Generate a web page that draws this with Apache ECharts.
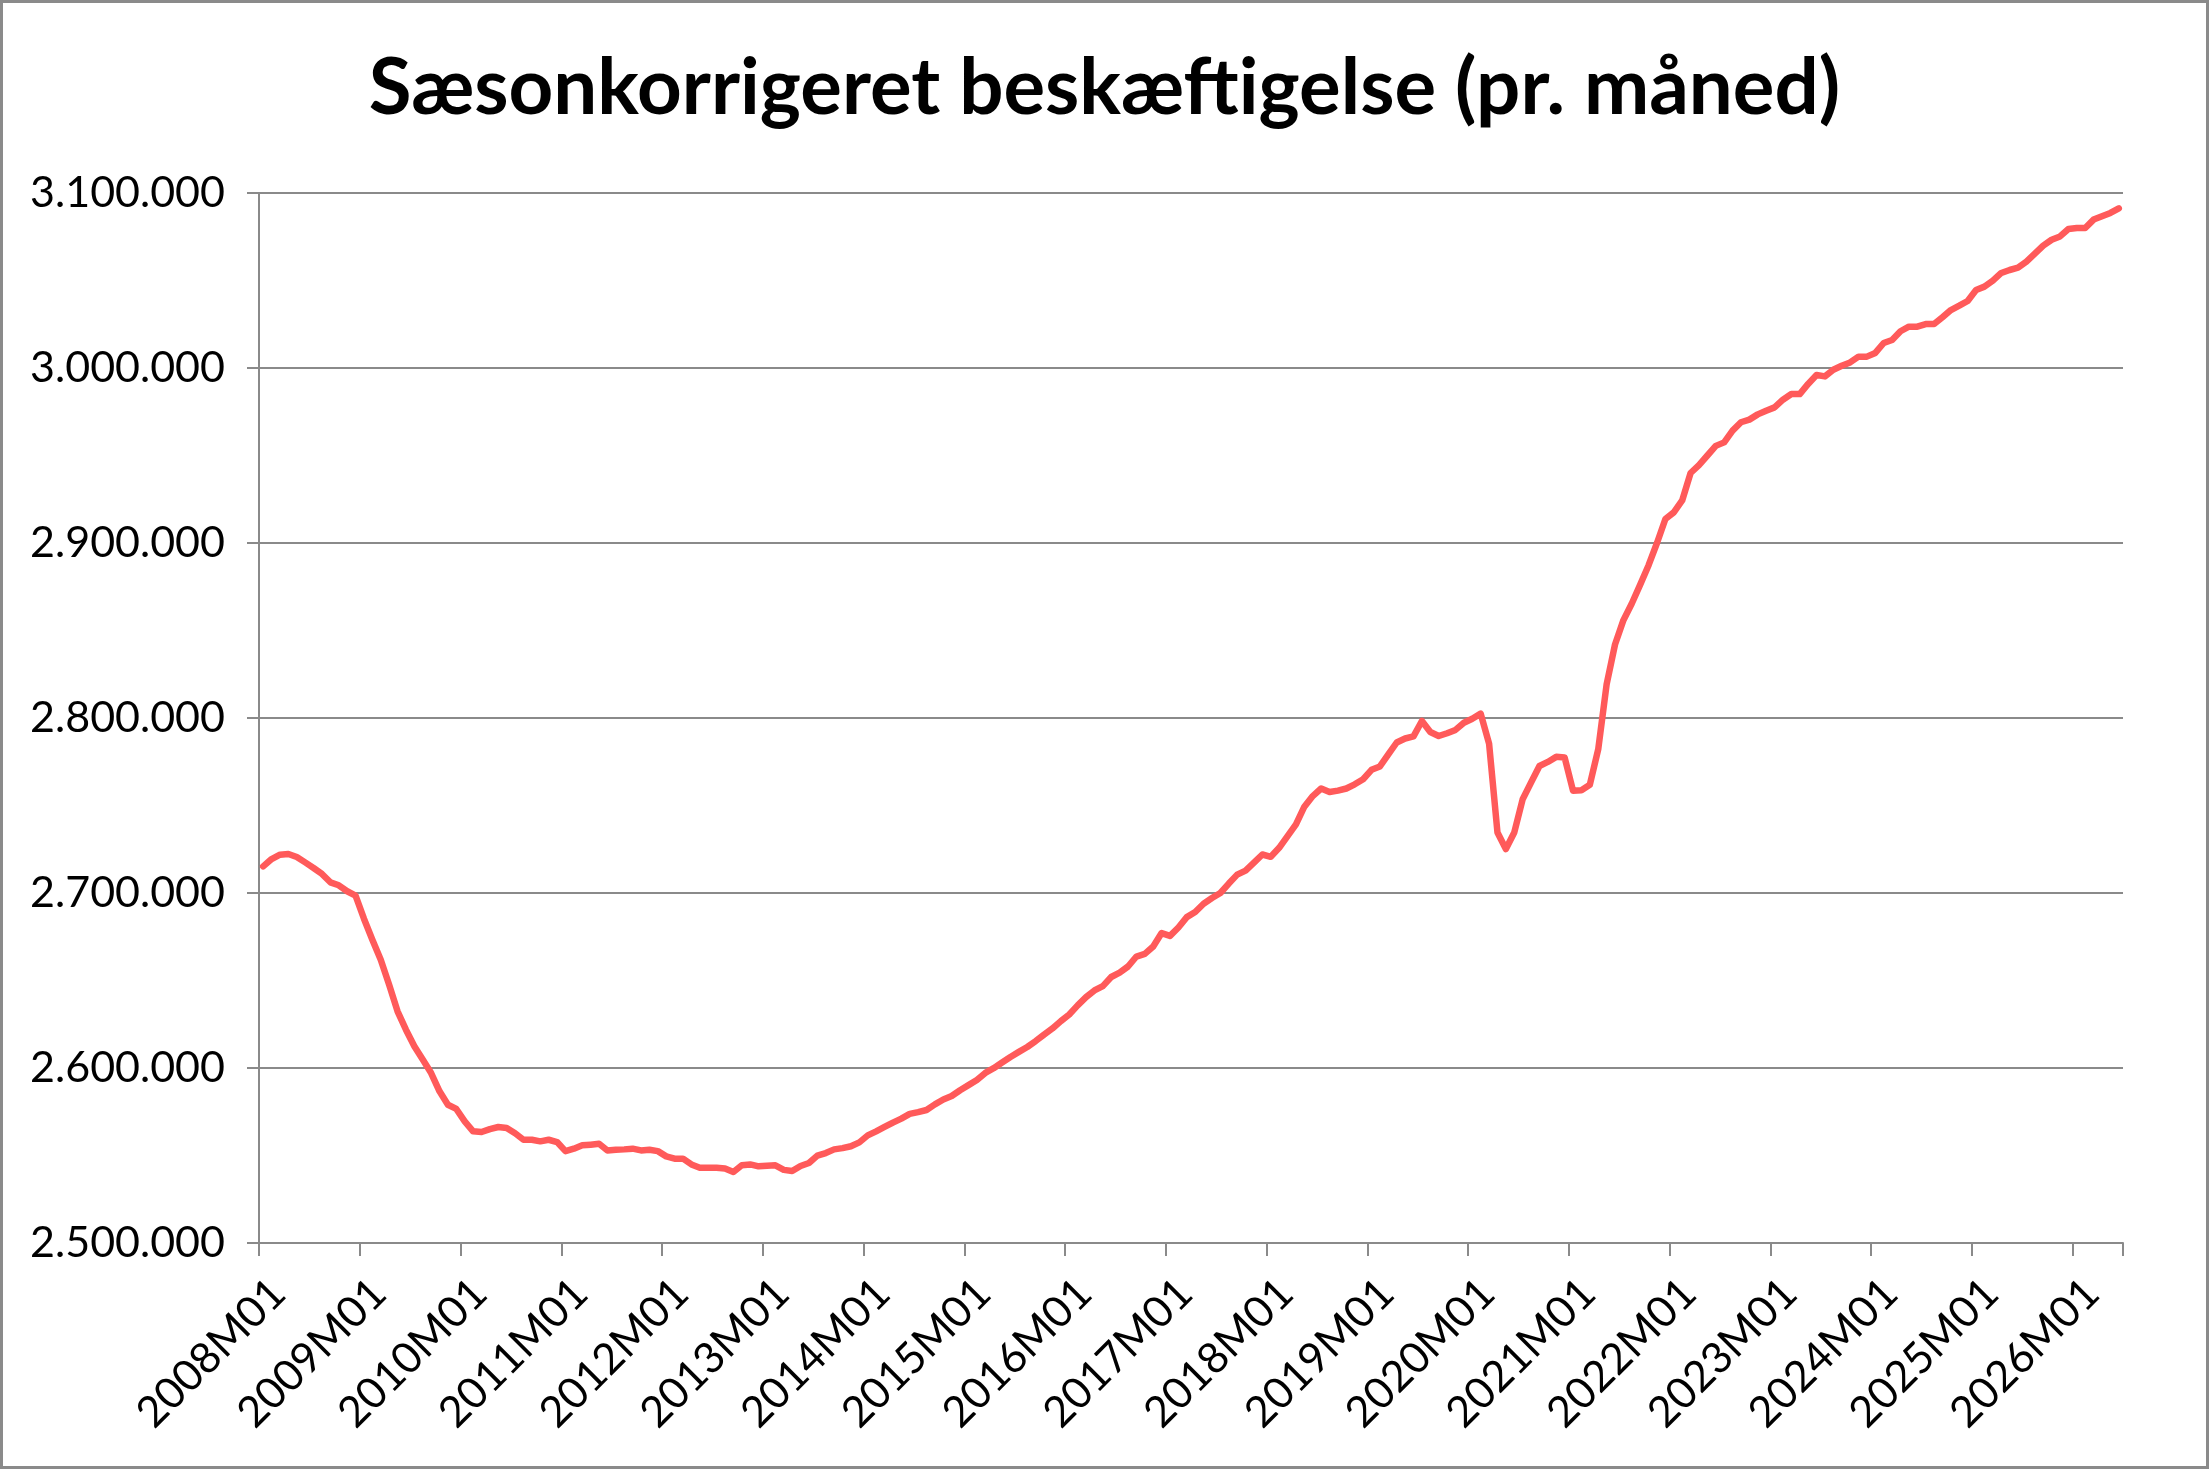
<!DOCTYPE html>
<html>
<head>
<meta charset="utf-8">
<script src="https://cdn.jsdelivr.net/npm/echarts@6/dist/echarts.min.js"></script>
<style>
html,body{margin:0;padding:0;background:#fff;}
#chart{width:2209px;height:1469px;}
</style>
</head>
<body>
<div id="chart"></div>
<script>
const titleText = 'Sæsonkorrigeret beskæftigelse (pr. måned)';
const years = [2008,2009,2010,2011,2012,2013,2014,2015,2016,2017,2018,2019,2020,2021,2022,2023,2024,2025,2026];
const monthCodes = ['M01','M02','M03','M04','M05','M06','M07','M08','M09','M10','M11','M12'];
const lastMonthsInFinalYear = 6;

const employment = [
2715200,2719400,2721900,2722300,2720600,2717500,2714300,2710900,2706100,2704400,2701000,2698500,
2685300,2673300,2661900,2647600,2632400,2621900,2612400,2604800,2597100,2586700,2579000,2576600,
2569500,2563800,2563400,2565100,2566300,2565700,2562700,2559000,2559000,2558100,2559000,2557700,
2552500,2553900,2555800,2556200,2556700,2552900,2553300,2553500,2553900,2552900,2553300,2552500,
2549500,2548200,2548200,2544900,2543000,2543000,2543000,2542600,2540600,2544400,2544900,2543800,
2544200,2544400,2541800,2541100,2544000,2545700,2549900,2551400,2553500,2554200,2555300,2557500,
2561500,2563800,2566300,2568800,2571100,2573800,2574800,2576000,2579200,2582000,2584000,2587300,
2590200,2593200,2597200,2599900,2603100,2606300,2609200,2612000,2615400,2619100,2622600,2626800,
2630600,2635800,2640500,2644300,2646800,2652000,2654500,2658000,2663700,2665200,2669400,2677100,
2675500,2680300,2686200,2689100,2693900,2697100,2700000,2705400,2710500,2712800,2717400,2722000,
2720700,2725800,2732500,2739200,2749300,2755400,2759700,2757700,2758500,2759700,2762100,2765000,
2770400,2772300,2779200,2786000,2788300,2789500,2798300,2792000,2789700,2791300,2793200,2797300,
2799600,2802500,2785400,2734600,2725100,2734600,2753600,2763100,2772600,2774900,2777800,2777400,
2758400,2758700,2761800,2782100,2819200,2842000,2855900,2865400,2876200,2887300,2900000,2913700,
2917500,2924300,2940000,2944500,2950000,2955500,2957500,2964200,2969000,2970500,2973500,2975600,
2977500,2981900,2985100,2985100,2990900,2996000,2995200,2999000,3001300,3003200,3006500,3006500,
3008600,3014300,3016000,3021000,3023600,3023600,3025100,3025100,3029000,3033100,3035600,3038300,
3044600,3046500,3049900,3054300,3056000,3057300,3060800,3065300,3069900,3073300,3075200,3079400,
3080000,3080000,3084800,3086700,3088600,3091200
];

const yMin = 2500000, yMax = 3100000, yStep = 100000;

const categories = [];
years.forEach((y, i) => {
  const n = (i === years.length - 1) ? lastMonthsInFinalYear : 12;
  for (let k = 0; k < n; k++) categories.push(y + monthCodes[k]);
});

function fmt(v){
  return String(Math.round(v)).replace(/\B(?=(\d{3})+(?!\d))/g, '.');
}

const gridColor = '#8a8a8a';
const font = 'Lato';

const chart = echarts.init(document.getElementById('chart'), null, {renderer:'canvas'});
chart.setOption({
  animation: false,
  backgroundColor: '#ffffff',
  title: {
    text: titleText,
    left: 'center',
    top: 45,
    textStyle: {fontFamily: font, fontWeight: 'bold', fontSize: 78, color: '#000'}
  },
  graphic: [{
    type: 'rect',
    shape: {x: 1.5, y: 1.5, width: 2206, height: 1466},
    style: {fill: 'none', stroke: '#8a8a8a', lineWidth: 3},
    silent: true
  }],
  grid: {left: 259, right: 86, top: 193, bottom: 226},
  xAxis: {
    type: 'category',
    data: categories,
    boundaryGap: true,
    axisLine: {show: true, lineStyle: {color: gridColor, width: 2}},
    axisTick: {show: true, interval: 11, length: 13, lineStyle: {color: gridColor, width: 2}},
    axisLabel: {interval: 11, rotate: 45, margin: 28, verticalAlign: 'top', fontFamily: font, fontSize: 43, color: '#000'},
    splitLine: {show: false}
  },
  yAxis: {
    type: 'value',
    min: yMin, max: yMax, interval: yStep,
    axisLine: {show: true, lineStyle: {color: gridColor, width: 2}},
    axisTick: {show: true, length: 12, lineStyle: {color: gridColor, width: 2}},
    axisLabel: {margin: 34, fontFamily: font, fontSize: 43, color: '#000', formatter: fmt},
    splitLine: {show: true, lineStyle: {color: gridColor, width: 2}}
  },
  series: [{
    type: 'line',
    data: employment,
    showSymbol: false,
    symbol: 'none',
    lineStyle: {color: '#ff5a5a', width: 6.5, cap: 'round', join: 'round'},
    itemStyle: {color: '#ff5a5a'}
  }]
});
</script>
</body>
</html>
